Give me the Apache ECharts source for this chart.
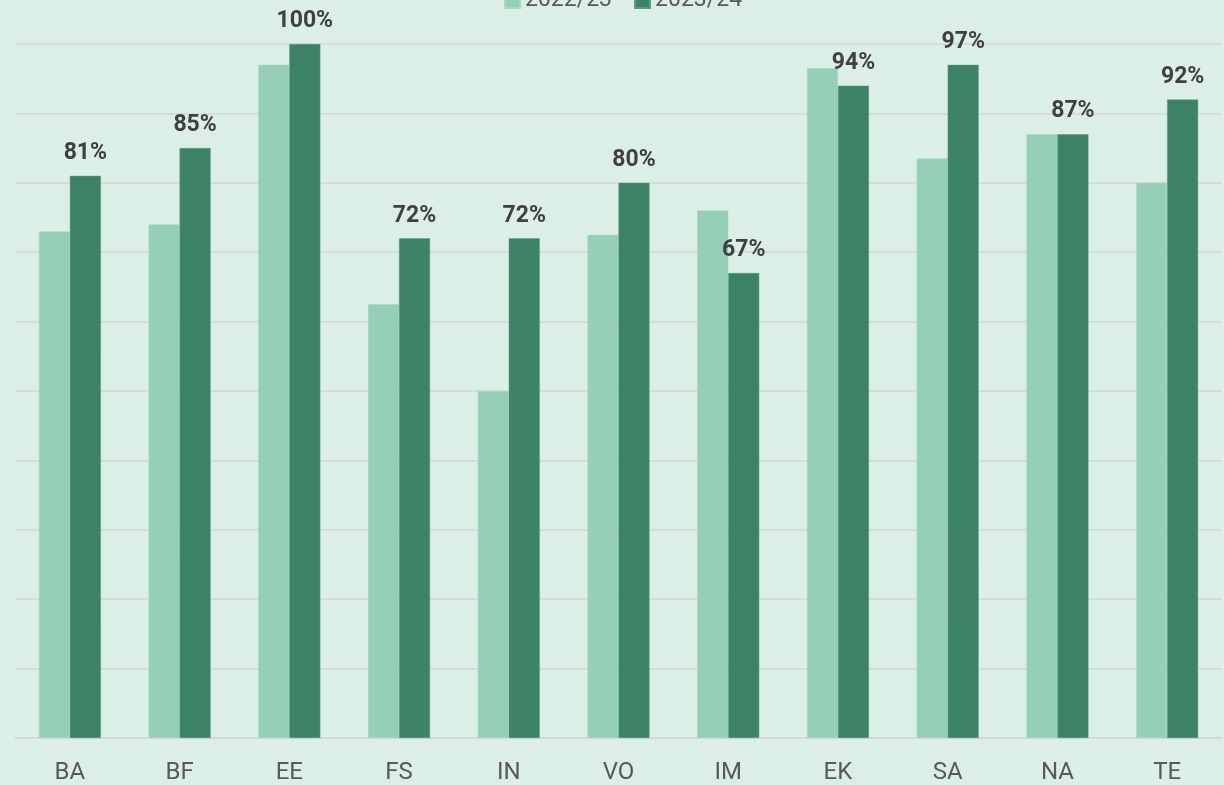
<!DOCTYPE html>
<html>
<head>
<meta charset="utf-8">
<script src="https://cdn.jsdelivr.net/npm/echarts@6/dist/echarts.min.js"></script>
<style>
  html, body { margin: 0; padding: 0; background: #dcefe6; }
  #chart { width: 1224px; height: 785px; }
</style>
</head>
<body>
<div id="chart"></div>
<script>
// 数据
const categories = ['BA', 'BF', 'EE', 'FS', 'IN', 'VO', 'IM', 'EK', 'SA', 'NA', 'TE']
const seriesNames = ['2022/23', '2023/24']
const values2223 = [73, 74, 97, 62.5, 50, 72.5, 76, 96.5, 83.5, 87, 80]
const values2324 = [81, 85, 100, 72, 72, 80, 67, 94, 97, 87, 92]

const chart = echarts.init(document.getElementById('chart'))

const option = {
  backgroundColor: '#dcefe6',
  textStyle: { fontFamily: 'Roboto, "Noto Sans", sans-serif' },
  legend: {
    data: seriesNames,
    top: -16,
    left: 499,
    itemWidth: 15,
    itemHeight: 15,
    itemGap: 22,
    icon: 'rect',
    textStyle: { fontSize: 23, color: '#595959' },
  },
  grid: {
    left: 15,
    right: 2,
    top: 44,
    bottom: 46,
  },
  xAxis: {
    type: 'category',
    data: categories,
    axisTick: { show: false },
    axisLine: { lineStyle: { color: '#d6d6d6', width: 1.5 } },
    axisLabel: { fontSize: 24, color: '#595959', margin: 23 },
  },
  yAxis: {
    type: 'value',
    min: 0,
    max: 100,
    interval: 10,
    axisLabel: { show: false },
    axisLine: { show: false },
    axisTick: { show: false },
    splitLine: { lineStyle: { color: '#d6d6d6', width: 1.5 } },
  },
  series: [
    {
      name: seriesNames[0],
      type: 'bar',
      barWidth: 31,
      barGap: '0%',
      itemStyle: { color: '#96cfb7', borderColor: '#a6d8c3', borderWidth: 0.5 },
      data: values2223,
    },
    {
      name: seriesNames[1],
      type: 'bar',
      barWidth: 31,
      barGap: '0%',
      itemStyle: { color: '#3b8266', borderColor: '#5a9a80', borderWidth: 0.5 },
      label: {
        show: true,
        position: 'top',
        distance: 11,
        formatter: '{c}%',
        fontSize: 23,
        fontWeight: 'bold',
        color: '#404040',
      },
      data: values2324,
    },
  ],
}

chart.setOption(option)
</script>
</body>
</html>
